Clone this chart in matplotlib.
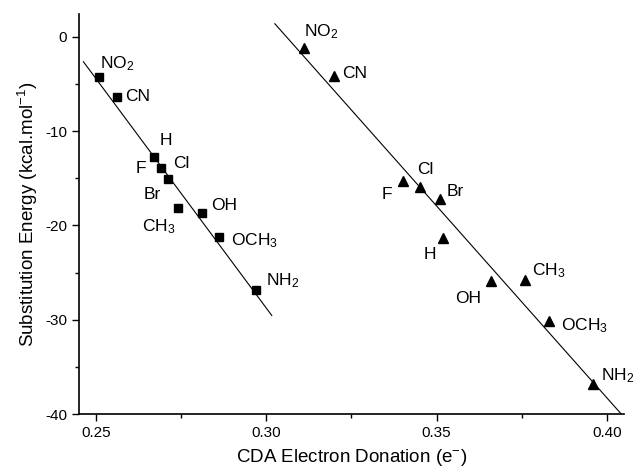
import numpy as np
import matplotlib
matplotlib.use("Agg")
import matplotlib.pyplot as plt
from matplotlib.ticker import MultipleLocator

plt.rcParams['font.family'] = ['Liberation Sans', 'DejaVu Sans']
plt.rcParams['mathtext.fontset'] = 'custom'
plt.rcParams['mathtext.rm'] = 'Liberation Sans'
plt.rcParams['mathtext.it'] = 'Liberation Sans'
plt.rcParams['mathtext.default'] = 'rm'
plt.rcParams['axes.unicode_minus'] = False

# square series (first set)
sq_x = [0.251, 0.2561, 0.2671, 0.2691, 0.271, 0.274, 0.281, 0.2861, 0.2971]
sq_y = [-4.3, -6.4, -12.8, -13.9, -15.1, -18.2, -18.7, -21.2, -26.8]
sq_lab = ['NO$_2$', 'CN', 'H', 'Cl', 'F', 'Br', 'CH$_3$', 'OH', 'OCH$_3$', 'NH$_2$']
sq_lab_x = [0.2512, 0.2585, 0.2688, 0.2725, 0.2617, 0.2639, 0.2634, 0.2839, 0.2895, 0.300]
sq_lab_y = [-3.39, -6.86, -11.5, -13.9, -14.4, -17.2, -20.6, -18.4, -22.1, -26.3]
fit1_x = [0.2463, 0.3016]
fit1_y = [-2.65, -29.55]

# triangle series (second set)
tri_x = [0.311, 0.320, 0.340, 0.345, 0.351, 0.352, 0.366, 0.376, 0.383, 0.396]
tri_y = [-1.2, -4.2, -15.3, -15.9, -17.2, -21.3, -25.9, -25.8, -30.1, -36.8]
tri_lab = ['NO$_2$', 'CN', 'Cl', 'F', 'Br', 'H', 'OH', 'CH$_3$', 'OCH$_3$', 'NH$_2$']
tri_lab_x = [0.311, 0.3223, 0.3443, 0.3338, 0.3529, 0.3462, 0.3555, 0.378, 0.3866, 0.3983]
tri_lab_y = [0.03, -4.38, -14.56, -17.2, -16.9, -23.6, -28.2, -25.3, -31.1, -36.4]
fit2_x = [0.3025, 0.4042]
fit2_y = [1.38, -40.0]

fig = plt.figure(figsize=(6.38, 4.71), dpi=100)
ax = fig.add_axes([0.1238, 0.121, 0.978 - 0.1238, 0.970 - 0.121])

ax.plot(fit1_x, fit1_y, color='black', lw=0.8)
ax.plot(fit2_x, fit2_y, color='black', lw=0.8)
ax.plot(sq_x, sq_y, 's', color='black', ms=5.5, ls='none')
ax.plot(tri_x, tri_y, '^', color='black', ms=6.5, ls='none')

for t, x, y in zip(sq_lab, sq_lab_x, sq_lab_y):
    ax.text(x, y, t, fontsize=12.5, ha='left', va='baseline')
for t, x, y in zip(tri_lab, tri_lab_x, tri_lab_y):
    ax.text(x, y, t, fontsize=12.5, ha='left', va='baseline')

ax.set_xlim(0.245, 0.405)
ax.set_ylim(-40, 2.4)
ax.xaxis.set_minor_locator(MultipleLocator(0.025))
ax.yaxis.set_major_locator(MultipleLocator(10))
ax.yaxis.set_minor_locator(MultipleLocator(5))
ax.set_xticks([0.25, 0.30, 0.35, 0.40])
ax.set_xticklabels(['0.25', '0.30', '0.35', '0.40'])

ax.spines['top'].set_visible(False)
ax.spines['right'].set_visible(False)
ax.spines['left'].set_linewidth(1.2)
ax.spines['bottom'].set_linewidth(1.2)
ax.tick_params(which='major', direction='out', length=5, width=1, labelsize=11)
ax.tick_params(which='minor', direction='out', length=3, width=1)

ax.set_xlabel('CDA Electron Donation (e$^{-}$)', fontsize=13.5, labelpad=5)
ax.set_ylabel('Substitution Energy (kcal.mol$^{-1}$)', fontsize=13.5, labelpad=4)

fig.savefig('out.png', dpi=100)
